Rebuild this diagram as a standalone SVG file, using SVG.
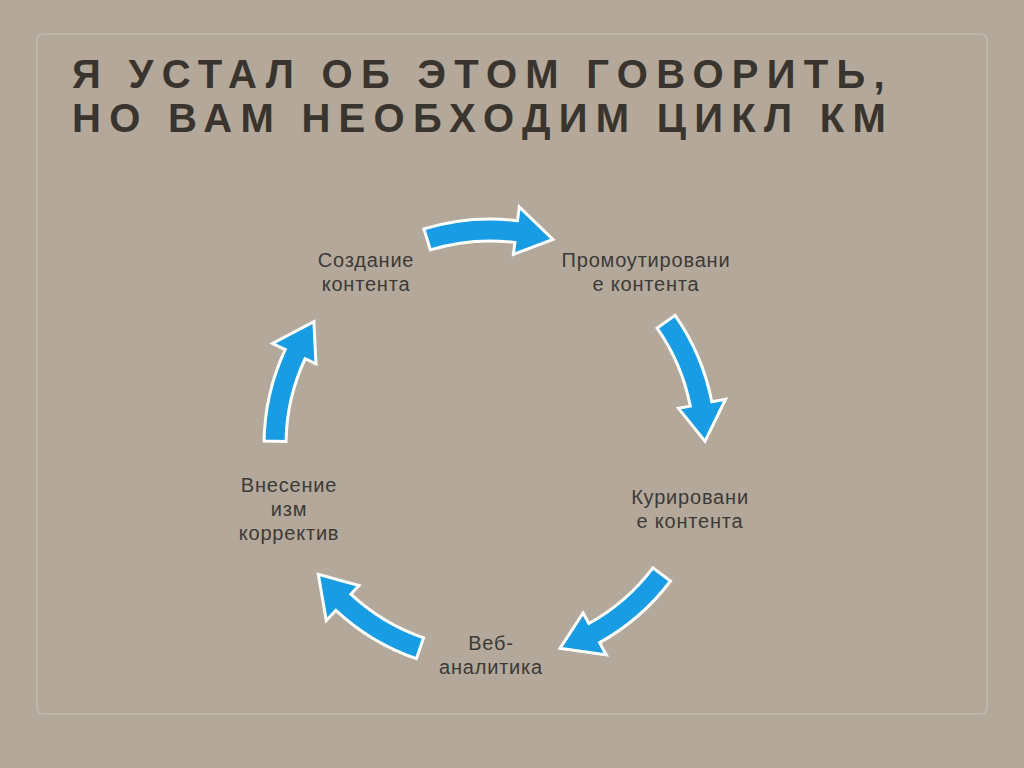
<svg xmlns="http://www.w3.org/2000/svg" xmlns:xlink="http://www.w3.org/1999/xlink" width="1024" height="768" viewBox="0 0 1024 768">
<style>
.t{font-family:"Liberation Sans",Arial,sans-serif;font-size:20px;fill:#3c3a38;text-anchor:middle;letter-spacing:0.8px}
.h{font-family:"Liberation Sans",Arial,sans-serif;font-size:40px;font-weight:bold;fill:#3a342e;letter-spacing:8.3px}
.a{fill:#189ce3;stroke:#fff;stroke-width:3;stroke-linejoin:miter}
</style>
<defs>
<path id="arr" class="a" d="M-66.1,-216.1 A226,226 0 0 1 27.5,-224.3 L29.3,-238.2 L62.9,-205.6 L23.4,-190.6 L24.9,-202.5 A204,204 0 0 0 -59.6,-195.1 Z"/>
</defs>
<rect width="1024" height="768" fill="#b3a899"/>
<rect x="37" y="34" width="950" height="680" rx="6" fill="none" stroke="#c4baad" stroke-width="1.5"/>
<text class="h" x="72" y="88">Я УСТАЛ ОБ ЭТОМ ГОВОРИТЬ,</text>
<text class="h" x="72" y="132">НО ВАМ НЕОБХОДИМ ЦИКЛ КМ</text>
<g id="connectors" transform="translate(490,445)">
<use xlink:href="#arr"/>
<use xlink:href="#arr" transform="rotate(72)"/>
<use xlink:href="#arr" transform="rotate(144)"/>
<use xlink:href="#arr" transform="rotate(216)"/>
<use xlink:href="#arr" transform="rotate(288)"/>
</g>
<g id="n1"><text class="t" x="366" y="267">Создание</text><text class="t" x="366" y="291">контента</text></g>
<g id="n2"><text class="t" x="646" y="267">Промоутировани</text><text class="t" x="646" y="291">е контента</text></g>
<g id="n3"><text class="t" x="690" y="504">Курировани</text><text class="t" x="690" y="528">е контента</text></g>
<g id="n4"><text class="t" x="491" y="650">Веб-</text><text class="t" x="491" y="674">аналитика</text></g>
<g id="n5"><text class="t" x="289" y="492">Внесение</text><text class="t" x="289" y="516">изм</text><text class="t" x="289" y="540">корректив</text></g>
</svg>
